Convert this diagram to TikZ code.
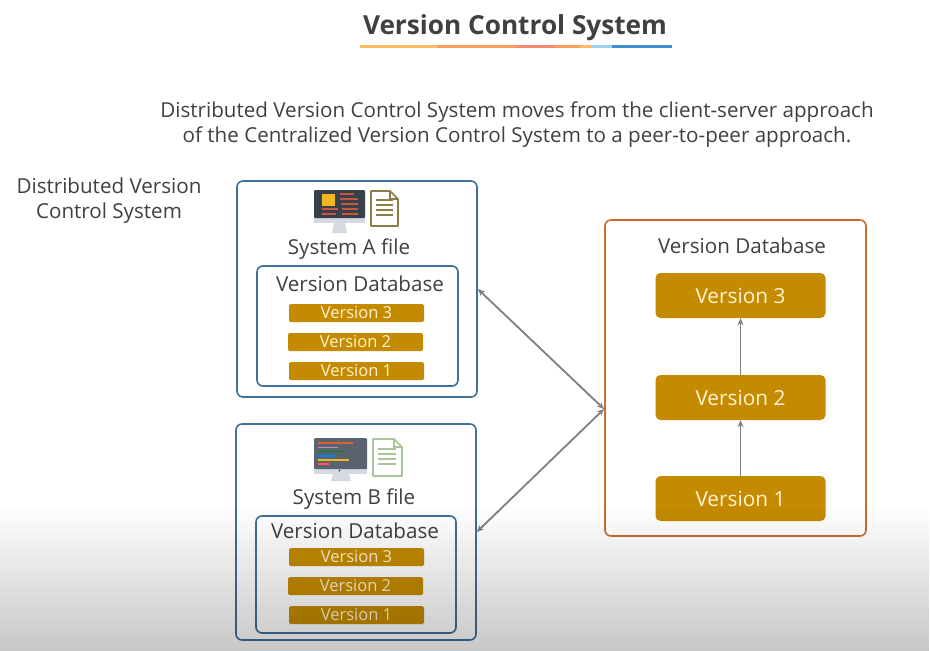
\documentclass[tikz,border=0pt]{standalone}
\usepackage{fontspec}
\setmainfont{Open Sans}
\usepackage{xcolor}
\usepackage{tikz}
\usetikzlibrary{arrows.meta, positioning, fadings}
\definecolor{ink}{HTML}{404042}
\definecolor{gold}{HTML}{C48B00}
\definecolor{cream}{HTML}{FFF3D0}
\definecolor{steel}{HTML}{3F6F9A}
\definecolor{rust}{HTML}{CC6B2C}
\definecolor{wire}{HTML}{808084}
\definecolor{screenA}{HTML}{38404C}
\definecolor{screenB}{HTML}{5A6270}
\definecolor{standgrey}{HTML}{D5D9E2}
\definecolor{docA}{HTML}{8A7D45}
\definecolor{docB}{HTML}{A9C49A}
\definecolor{ruleA}{HTML}{FDBB63}
\definecolor{ruleB}{HTML}{F9A05F}
\definecolor{ruleC}{HTML}{F58A70}
\definecolor{ruleD}{HTML}{9CD3F0}
\definecolor{ruleE}{HTML}{3F8FCF}
\definecolor{tilecol}{HTML}{F5B71C}
\definecolor{codecol}{HTML}{C8583C}
\tikzfading[name=floorshade, top color=transparent!100, bottom color=transparent!78]

\begin{document}
\begin{tikzpicture}[
  x=1pt, y=-1pt,
  >={Stealth[length=7pt, width=6pt]},
  every node/.style={text=ink, inner sep=0pt},
  head/.style={font=\fontsize{20.6}{25}\selectfont, align=center},
  label/.style={font=\fontsize{20.6}{25}\selectfont},
  panel/.style={draw=steel, line width=1.6pt, rounded corners=6pt, minimum width=240pt},
  store/.style={panel, minimum width=200pt},
  vsmall/.style={fill=gold, rounded corners=1.5pt, minimum width=135pt, minimum height=18pt,
                 text=cream, font=\fontsize{16.5}{18}\selectfont},
  vbig/.style={fill=gold, rounded corners=5pt, minimum width=170pt, minimum height=45pt,
               text=cream, font=\fontsize{20.8}{22}\selectfont},
  link/.style={draw=wire, line width=1.8pt},
]
\useasboundingbox (0,0) rectangle (930,651);
\fill[white] (0,0) rectangle (930,651);

% title and its rule
\node (title) [font=\fontsize{26.2}{30}\selectfont\bfseries] at (515,28) {Version Control System};
\fill[ruleA] (360,45) rectangle (437,48);
\fill[ruleB] (437,45) rectangle (516,48);
\fill[ruleC] (516,45) rectangle (555,48);
\fill[ruleB] (555,45) rectangle (580,48);
\fill[ruleA] (580,45) rectangle (592,48);
\fill[ruleD] (592,45) rectangle (612,48);
\fill[ruleE] (612,45) rectangle (672,48);

\node (intro) [head] at (517,125) {Distributed Version Control System moves from the client-server approach\\
  of the Centralized Version Control System to a peer-to-peer approach.};
\node (side) [label, align=center] at (109,201) {Distributed Version\\Control System};

% system A
\node (sysA) [panel, minimum height=216pt] at (357,289) {};
\node (nameA) [label] at (349,249) {System A file};
\node (dbA) [store, minimum height=120pt, minimum width=201pt] at (357.5,326) {};
\node (dbAname) [label] at (360,284) {Version Database};
\node (a3) [vsmall] at (356.5,313) {Version 3};
\node (a2) [vsmall] at (355.5,342) {Version 2};
\node (a1) [vsmall] at (356.5,371) {Version 1};

% system B
\node (sysB) [panel, minimum height=216pt] at (356,532) {};
\node (nameB) [label] at (354,499) {System B file};
\node (dbB) [store, minimum height=117pt] at (356,574.5) {};
\node (dbBname) [label] at (355,531) {Version Database};
\node (b3) [vsmall] at (356.5,557) {Version 3};
\node (b2) [vsmall] at (355.5,586) {Version 2};
\node (b1) [vsmall] at (356.5,615) {Version 1};

% icons
\fill[standgrey] (314,217) rectangle (365,223);
\fill[standgrey] (334,223) -- (345,223) -- (347,233) -- (332,233) -- cycle;
\fill[screenA, rounded corners=1pt] (314,190) rectangle (365,218);
\fill[tilecol] (322,194) rectangle (335,206);
\foreach \y/\xa/\xb in {194/340/354, 199/340/358, 204/341/358, 209/322/338, 209/342/358, 214/322/336, 214/342/358}
  \draw[codecol, line width=1.5pt] (\xa,\y) -- (\xb,\y);
\draw[docA, line width=1.6pt, fill=white, line join=round] (371,191) -- (390,191) -- (398,199) -- (398,226) -- (371,226) -- cycle;
\draw[docA, line width=1.2pt] (390,191) -- (390,199) -- (398,199);
\foreach \y in {200,205,210,215}
  \draw[docA, line width=1.2pt] (376,\y) -- (393,\y);

\fill[standgrey] (314,468) rectangle (367,474);
\fill[standgrey] (333,474) -- (349,474) -- (351,481) -- (331,481) -- cycle;
\fill[screenB, rounded corners=1pt] (314,438) rectangle (367,469);
\fill[ink] (339.5,470.5) circle (1pt);
\foreach \y/\xb/\colr in {443/353/codecol!70!orange, 447.5/338/violet!45, 451.5/344/green!55!black, 456/335/blue!50!cyan, 460/349/tilecol, 464/329/red!65}
  \draw[\colr, line width=1.6pt] (318,\y) -- (\xb,\y);
\draw[docB, line width=1.6pt, fill=white, line join=round] (373,439) -- (394,439) -- (402,447) -- (402,476) -- (373,476) -- cycle;
\draw[docB, line width=1.2pt] (394,439) -- (394,447) -- (402,447);
\foreach \y in {449,454,459,464}
  \draw[docB, line width=1.2pt] (378,\y) -- (396,\y);

% central database
\node (hubbox) [panel, draw=rust, minimum width=261pt, minimum height=316pt] at (735.5,378) {};
\node (hubname) [label] at (742,246) {Version Database};
\node (big3) [vbig] at (740.5,295.5) {Version 3};
\node (big2) [vbig] at (740.5,397.5) {Version 2};
\node (big1) [vbig] at (740.5,498.5) {Version 1};
\coordinate (hub) at (604,409);

\draw[link, ->] (big1.north) -- (big2.south);
\draw[link, ->] (big2.north) -- (big3.south);
\draw[link, <->] (sysA.east) -- (hub);
\draw[link, <->] (sysB.east) -- (hub);

% darkening towards the bottom edge
\fill[black, path fading=floorshade] (0,505) rectangle (930,651);
\end{tikzpicture}
\end{document}
